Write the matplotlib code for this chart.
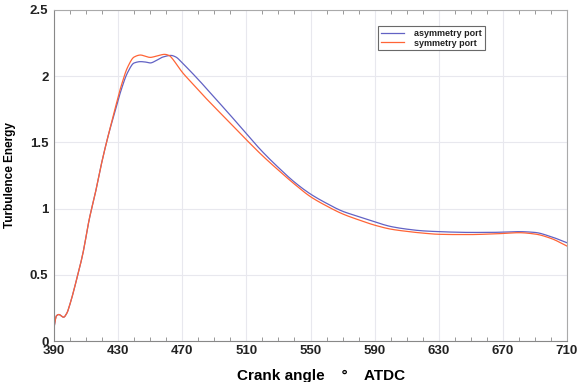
import matplotlib
matplotlib.use("Agg")
import matplotlib.pyplot as plt
import numpy as np
from matplotlib.ticker import MultipleLocator

plt.rcParams['font.family'] = ['Liberation Sans', 'DejaVu Sans']

# Crank angle (deg ATDC)
angle_sym = [390, 391.5, 393, 396, 398, 400, 404, 408, 412, 416, 420, 424, 428, 432, 436, 440,
             444, 447, 450, 454, 459, 462, 464, 467, 470, 475, 480, 490, 500, 510, 520, 530, 540,
             550, 560, 570, 580, 590, 600, 610, 620, 630, 640, 650, 660, 670, 680, 690, 700, 710]
symmetry = [0.10, 0.19, 0.20, 0.18, 0.21, 0.28, 0.46, 0.66, 0.92, 1.13, 1.36, 1.56, 1.75, 1.93,
            2.07, 2.145, 2.16, 2.15, 2.142, 2.152, 2.165, 2.155, 2.13, 2.08, 2.03, 1.962, 1.895,
            1.768, 1.645, 1.52, 1.40, 1.29, 1.185, 1.09, 1.02, 0.96, 0.915, 0.875, 0.845, 0.828,
            0.815, 0.806, 0.804, 0.804, 0.807, 0.812, 0.818, 0.808, 0.775, 0.717]

angle_asym = [390, 391.5, 393, 396, 398, 400, 404, 408, 412, 416, 420, 424, 428, 432, 436, 440,
              444, 447, 450, 454, 458, 463, 466, 470, 480, 490, 500, 510, 520, 530, 540, 550,
              560, 570, 580, 590, 600, 610, 620, 630, 640, 650, 660, 670, 680, 690, 700, 710]
asymmetry = [0.10, 0.19, 0.20, 0.18, 0.21, 0.28, 0.46, 0.66, 0.92, 1.13, 1.36, 1.56, 1.73, 1.90,
             2.03, 2.10, 2.11, 2.107, 2.10, 2.12, 2.145, 2.157, 2.145, 2.10, 1.975, 1.84, 1.705,
             1.565, 1.43, 1.31, 1.20, 1.11, 1.04, 0.98, 0.94, 0.90, 0.865, 0.845, 0.832, 0.826,
             0.822, 0.82, 0.82, 0.822, 0.826, 0.82, 0.788, 0.742]

xticks = [390, 430, 470, 510, 550, 590, 630, 670, 710]
yticks = [0, 0.5, 1, 1.5, 2, 2.5]
ytick_labels = ['0', '0.5', '1', '1.5', '2', '2.5']

fig = plt.figure(figsize=(5.84, 3.82), dpi=100)
ax = fig.add_axes([54/584, 1-341/382, (567-54)/584, (341-10)/382])


def smooth(x, y, n=700):
    """Piecewise cubic Hermite (monotone, Fritsch-Carlson) interpolation."""
    x = np.asarray(x, float)
    y = np.asarray(y, float)
    h = np.diff(x)
    d = np.diff(y) / h
    m = np.zeros_like(y)
    for i in range(1, len(y) - 1):
        if d[i - 1] * d[i] > 0:
            w1 = 2 * h[i] + h[i - 1]
            w2 = h[i] + 2 * h[i - 1]
            m[i] = (w1 + w2) / (w1 / d[i - 1] + w2 / d[i])
    m[0] = d[0]
    m[-1] = d[-1]
    xs = np.linspace(x[0], x[-1], n)
    idx = np.clip(np.searchsorted(x, xs) - 1, 0, len(h) - 1)
    t = (xs - x[idx]) / h[idx]
    h00 = 2 * t**3 - 3 * t**2 + 1
    h10 = t**3 - 2 * t**2 + t
    h01 = -2 * t**3 + 3 * t**2
    h11 = t**3 - t**2
    ys = h00 * y[idx] + h10 * h[idx] * m[idx] + h01 * y[idx + 1] + h11 * h[idx] * m[idx + 1]
    return xs, ys


xa, ya = smooth(angle_asym, asymmetry)
xs_, ys_ = smooth(angle_sym, symmetry)
ax.plot(xa, ya, color='#6262c4', lw=0.9, label='asymmetry port')
ax.plot(xs_, ys_, color='#ff6436', lw=0.9, label='symmetry port')

ax.set_xlim(390, 710)
ax.set_ylim(0, 2.5)
ax.set_xticks(xticks)
ax.set_yticks(yticks)
ax.set_yticklabels(ytick_labels)
ax.xaxis.set_minor_locator(MultipleLocator(10))
ax.grid(True, which='major', color='#e8e8ee', lw=0.8)
ax.set_axisbelow(True)
ax.tick_params(axis='x', which='both', direction='in', top=True, bottom=True,
               labelsize=9.5, pad=3, color='#888888')
ax.tick_params(axis='x', which='major', length=0)
ax.tick_params(axis='x', which='minor', length=3)
ax.tick_params(axis='y', which='both', length=0, labelsize=9.5, pad=4)
for lab in ax.get_xticklabels() + ax.get_yticklabels():
    lab.set_fontweight('bold')
    lab.set_color('#222222')
for s in ['left', 'bottom']:
    ax.spines[s].set_color('#888888')
for s in ['top', 'right']:
    ax.spines[s].set_color('#aaaaaa')

ax.set_xlabel('Crank angle    °    ATDC', fontsize=11, fontweight='bold')
ax.xaxis.set_label_coords(0.52, -0.085)
ax.set_ylabel('Turbulence Energy', fontsize=8.5, fontweight='bold', labelpad=10)

leg = ax.legend(loc='upper left', bbox_to_anchor=((378-54)/513, 1-(26-10)/331),
                fontsize=6.5, frameon=True, fancybox=False, edgecolor='#444444',
                borderpad=0.3, handlelength=2.6, labelspacing=0.1, handletextpad=1.1,
                borderaxespad=0)
leg.get_frame().set_linewidth(0.8)
for t in leg.get_texts():
    t.set_fontweight('bold')
    t.set_color('#222222')

fig.savefig('out.png', dpi=100)
